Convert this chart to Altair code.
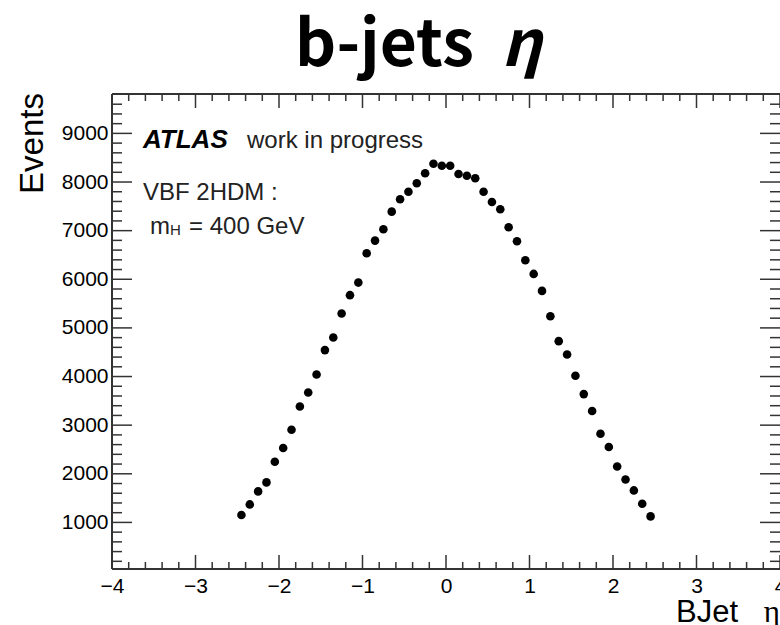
import altair as alt
import pandas as pd

# ---- data ----
eta = [-2.45, -2.35, -2.25, -2.15, -2.05, -1.95, -1.85, -1.75, -1.65, -1.55,
       -1.45, -1.35, -1.25, -1.15, -1.05, -0.95, -0.85, -0.75, -0.65, -0.55,
       -0.45, -0.35, -0.25, -0.15, -0.05, 0.05, 0.15, 0.25, 0.35, 0.45,
       0.55, 0.65, 0.75, 0.85, 0.95, 1.05, 1.15, 1.25, 1.35, 1.45,
       1.55, 1.65, 1.75, 1.85, 1.95, 2.05, 2.15, 2.25, 2.35, 2.45]
events = [1153, 1370, 1638, 1823, 2248, 2529, 2905, 3384, 3672, 4042,
          4543, 4802, 5295, 5673, 5932, 6536, 6795, 7029, 7391, 7645,
          7801, 7974, 8180, 8377, 8336, 8336, 8165, 8130, 8077, 7801,
          7590, 7440, 7070, 6782, 6392, 6110, 5761, 5241, 4728, 4452,
          4015, 3639, 3290, 2823, 2550, 2151, 1884, 1658, 1385, 1124]

x_major = [-4, -3, -2, -1, 0, 1, 2, 3, 4]
x_minor = [-3.8, -3.6, -3.4, -3.2, -2.8, -2.6, -2.4, -2.2, -1.8, -1.6, -1.4, -1.2,
           -0.8, -0.6, -0.4, -0.2, 0.2, 0.4, 0.6, 0.8, 1.2, 1.4, 1.6, 1.8,
           2.2, 2.4, 2.6, 2.8, 3.2, 3.4, 3.6, 3.8]
y_major = [1000, 2000, 3000, 4000, 5000, 6000, 7000, 8000, 9000]
y_minor = [200, 400, 600, 800, 1200, 1400, 1600, 1800, 2200, 2400, 2600, 2800,
           3200, 3400, 3600, 3800, 4200, 4400, 4600, 4800, 5200, 5400, 5600, 5800,
           6200, 6400, 6600, 6800, 7200, 7400, 7600, 7800, 8200, 8400, 8600, 8800,
           9200, 9400, 9600]

x_domain = [-4, 4]
y_domain = [42, 9810]

W, H = 668, 475
SANS = "Liberation Sans"

xs = alt.Scale(domain=x_domain, nice=False, zero=False)
ys = alt.Scale(domain=y_domain, nice=False, zero=False)

x_axis = alt.Axis(values=x_major, format="d", ticks=False, domain=False, grid=False,
                  labelFont=SANS, labelFontSize=21, labelColor="black",
                  labelPadding=6, title=None, labelFlush=False)
y_axis = alt.Axis(values=y_major, format="d", ticks=False, domain=False, grid=False,
                  labelFont=SANS, labelFontSize=21, labelColor="black",
                  labelPadding=4, title=None)

df = pd.DataFrame({"eta": eta, "events": events})

points = alt.Chart(df).mark_circle(size=74, color="black", opacity=1).encode(
    x=alt.X("eta:Q", scale=xs, axis=x_axis),
    y=alt.Y("events:Q", scale=ys, axis=y_axis),
)

TICK = "#333333"

def xticks(vals, length):
    d = pd.DataFrame({"v": vals})
    bottom = alt.Chart(d).mark_rule(color=TICK, strokeWidth=1.5).encode(
        x=alt.X("v:Q", scale=xs, axis=x_axis),
        y=alt.value(H), y2=alt.value(H - length))
    top = alt.Chart(d).mark_rule(color=TICK, strokeWidth=1.5).encode(
        x=alt.X("v:Q", scale=xs, axis=x_axis),
        y=alt.value(0), y2=alt.value(length))
    return [bottom, top]

def yticks(vals, length):
    d = pd.DataFrame({"w": vals})
    left = alt.Chart(d).mark_rule(color=TICK, strokeWidth=1.5).encode(
        y=alt.Y("w:Q", scale=ys, axis=y_axis),
        x=alt.value(0), x2=alt.value(length))
    right = alt.Chart(d).mark_rule(color=TICK, strokeWidth=1.5).encode(
        y=alt.Y("w:Q", scale=ys, axis=y_axis),
        x=alt.value(W), x2=alt.value(W - length))
    return [left, right]

frame_left = alt.Chart(df).mark_rule(color=TICK, strokeWidth=2).encode(
    x=alt.value(0), y=alt.value(0), y2=alt.value(H))
frame_bottom = alt.Chart(df).mark_rule(color=TICK, strokeWidth=2).encode(
    x=alt.value(0), x2=alt.value(W), y=alt.value(H))
frame_top = alt.Chart(df).mark_rule(color=TICK, strokeWidth=2).encode(
    x=alt.value(0), x2=alt.value(W), y=alt.value(0))

def label(text, x, y, size, font=SANS, weight="normal", style="normal",
          align="left", angle=0, color="black"):
    return alt.Chart(pd.DataFrame({"t": [text]})).mark_text(
        font=font, fontSize=size, fontWeight=weight, fontStyle=style,
        align=align, baseline="alphabetic", angle=angle, color=color
    ).encode(text="t:N", x=alt.value(x), y=alt.value(y))

texts = [
    label("b-jets", 183, -28, 64, font="Noto Sans CJK JP", weight="bold"),
    label("η", 389, -28, 64, font="Noto Sans CJK JP", weight="bold", style="italic"),
    label("Events", -69, -1, 33, align="right", angle=270),
    label("BJet", 626, 53 + H, 31, align="right"),
    label("η", W, 53 + H, 31, font="Liberation Serif", align="right"),
    label("ATLAS", 31, 54, 26, weight="bold", style="italic"),
    label("work in progress", 135, 54, 24, color="#222222"),
    label("VBF 2HDM :", 31, 106, 24, color="#222222"),
    label("m", 38, 140, 24, color="#222222"),
    label("H", 58, 141, 15, color="#222222"),
    label("= 400 GeV", 77, 140, 24, color="#222222"),
]

layers = ([frame_left, frame_bottom, frame_top]
          + xticks(x_major, 14) + xticks(x_minor, 7)
          + yticks(y_major, 20) + yticks(y_minor, 10)
          + [points] + texts)

chart = alt.layer(*layers).properties(
    width=W, height=H,
    autosize=alt.AutoSizeParams(type="none"),
    padding={"left": 112, "top": 94, "right": 0, "bottom": 56},
).configure_view(stroke=None).configure(background="white")

chart.save("out.html", embed_options={"renderer": "svg", "actions": False})
